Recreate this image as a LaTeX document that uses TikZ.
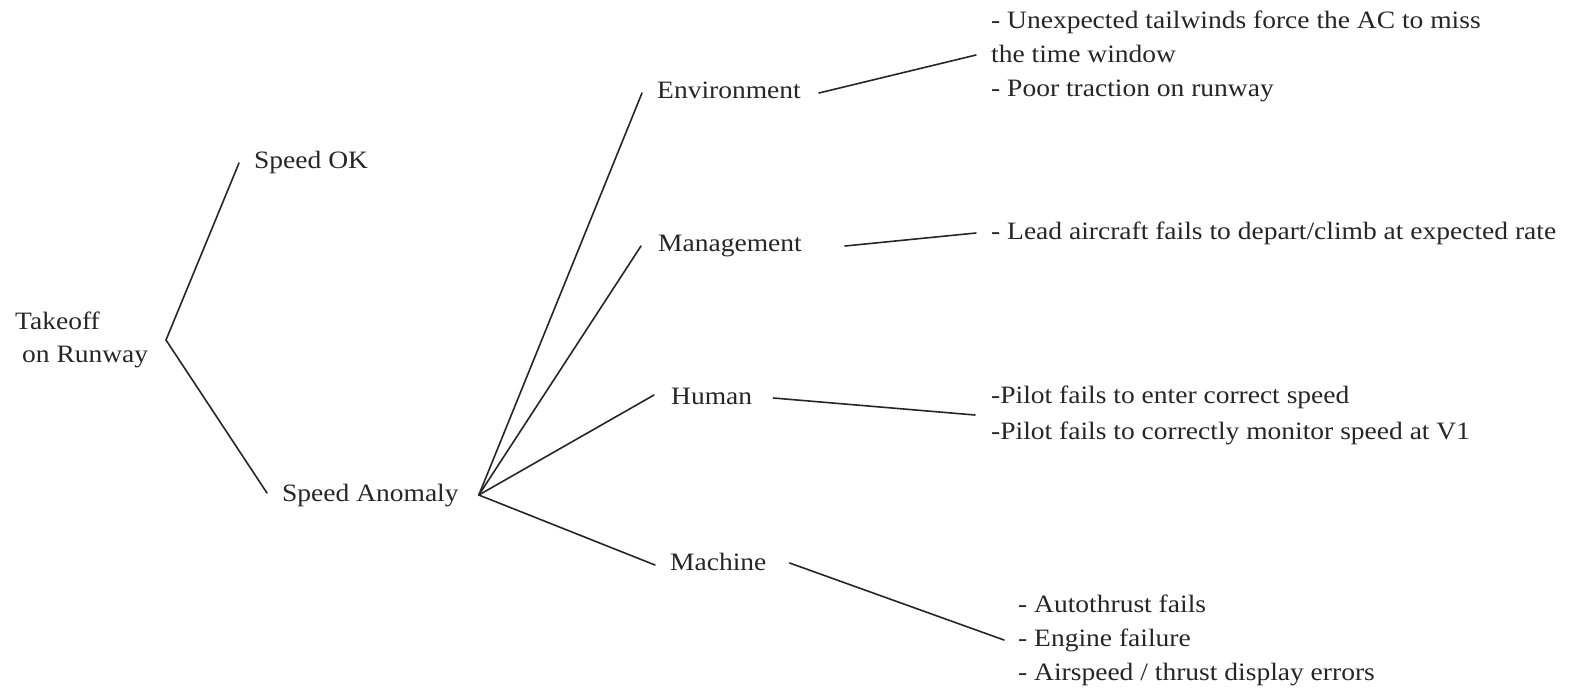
\documentclass[tikz,border=0pt]{standalone}
\usepackage{fontspec}
\setmainfont{Liberation Serif}[FakeStretch=1.1]
\newcommand\mlines[1]{\begin{tabular}[t]{@{}l@{}}#1\end{tabular}}
\begin{document}
\begin{tikzpicture}[x=1pt,y=-1pt,
  lbl/.style={inner sep=0pt, anchor=base west, text=black!85,
    font=\fontsize{25}{34}\selectfont},
  conn/.style={line width=1.6pt, black!85, line cap=round}]
\useasboundingbox (0,0) rectangle (1577,689);
% level 0
\node[lbl] (take) at (15,329) {\mlines{Takeoff\\[-1pt]\hspace{7pt}on Runway}};
% level 1
\node[lbl] (ok) at (254,168) {Speed OK};
\node[lbl] (sa) at (282,501) {Speed Anomaly};
% level 2
\node[lbl] (env) at (657,98) {Environment};
\node[lbl] (mgmt) at (658,251) {Management};
\node[lbl] (hum) at (671,404) {Human};
\node[lbl] (mach) at (670,570) {Machine};
% level 3
\node[lbl] (envt) at (991,28) {\mlines{- Unexpected tailwinds force the AC to miss\\the time window\\- Poor traction on runway}};
\node[lbl] (mgmtt) at (991,239) {- Lead aircraft fails to depart/climb at expected rate};
\node[lbl] (humt) at (991,403) {\mlines{-Pilot fails to enter correct speed\\[2pt]-Pilot fails to correctly monitor speed at V1}};
\node[lbl] (macht) at (1018,612) {\mlines{- Autothrust fails\\- Engine failure\\- Airspeed / thrust display errors}};
% branch points
\coordinate (v0) at ([shift={(151,11)}]take.base west);
\coordinate (v1) at ([shift={(20,-6)}]sa.base east);
% connectors
\draw[conn] ([shift={(-15,-5)}]ok.base west) -- (v0) -- ([shift={(-15,-8)}]sa.base west);
\draw[conn] (v1) -- ([shift={(-15,-5)}]env.base west);
\draw[conn] (v1) -- ([shift={(-17,-5)}]mgmt.base west);
\draw[conn] (v1) -- ([shift={(-17,-9)}]hum.base west);
\draw[conn] (v1) -- ([shift={(-15,-5)}]mach.base west);
\draw[conn] ([shift={(18,-5)}]env.base east) -- ([shift={(-15,27)}]envt.base west);
\draw[conn] ([shift={(43,-5)}]mgmt.base east) -- ([shift={(-15,-6)}]mgmtt.base west);
\draw[conn] ([shift={(21,-6)}]hum.base east) -- ([shift={(-16,12)}]humt.base west);
\draw[conn] ([shift={(23,-7)}]mach.base east) -- ([shift={(-14,28)}]macht.base west);
\end{tikzpicture}
\end{document}
